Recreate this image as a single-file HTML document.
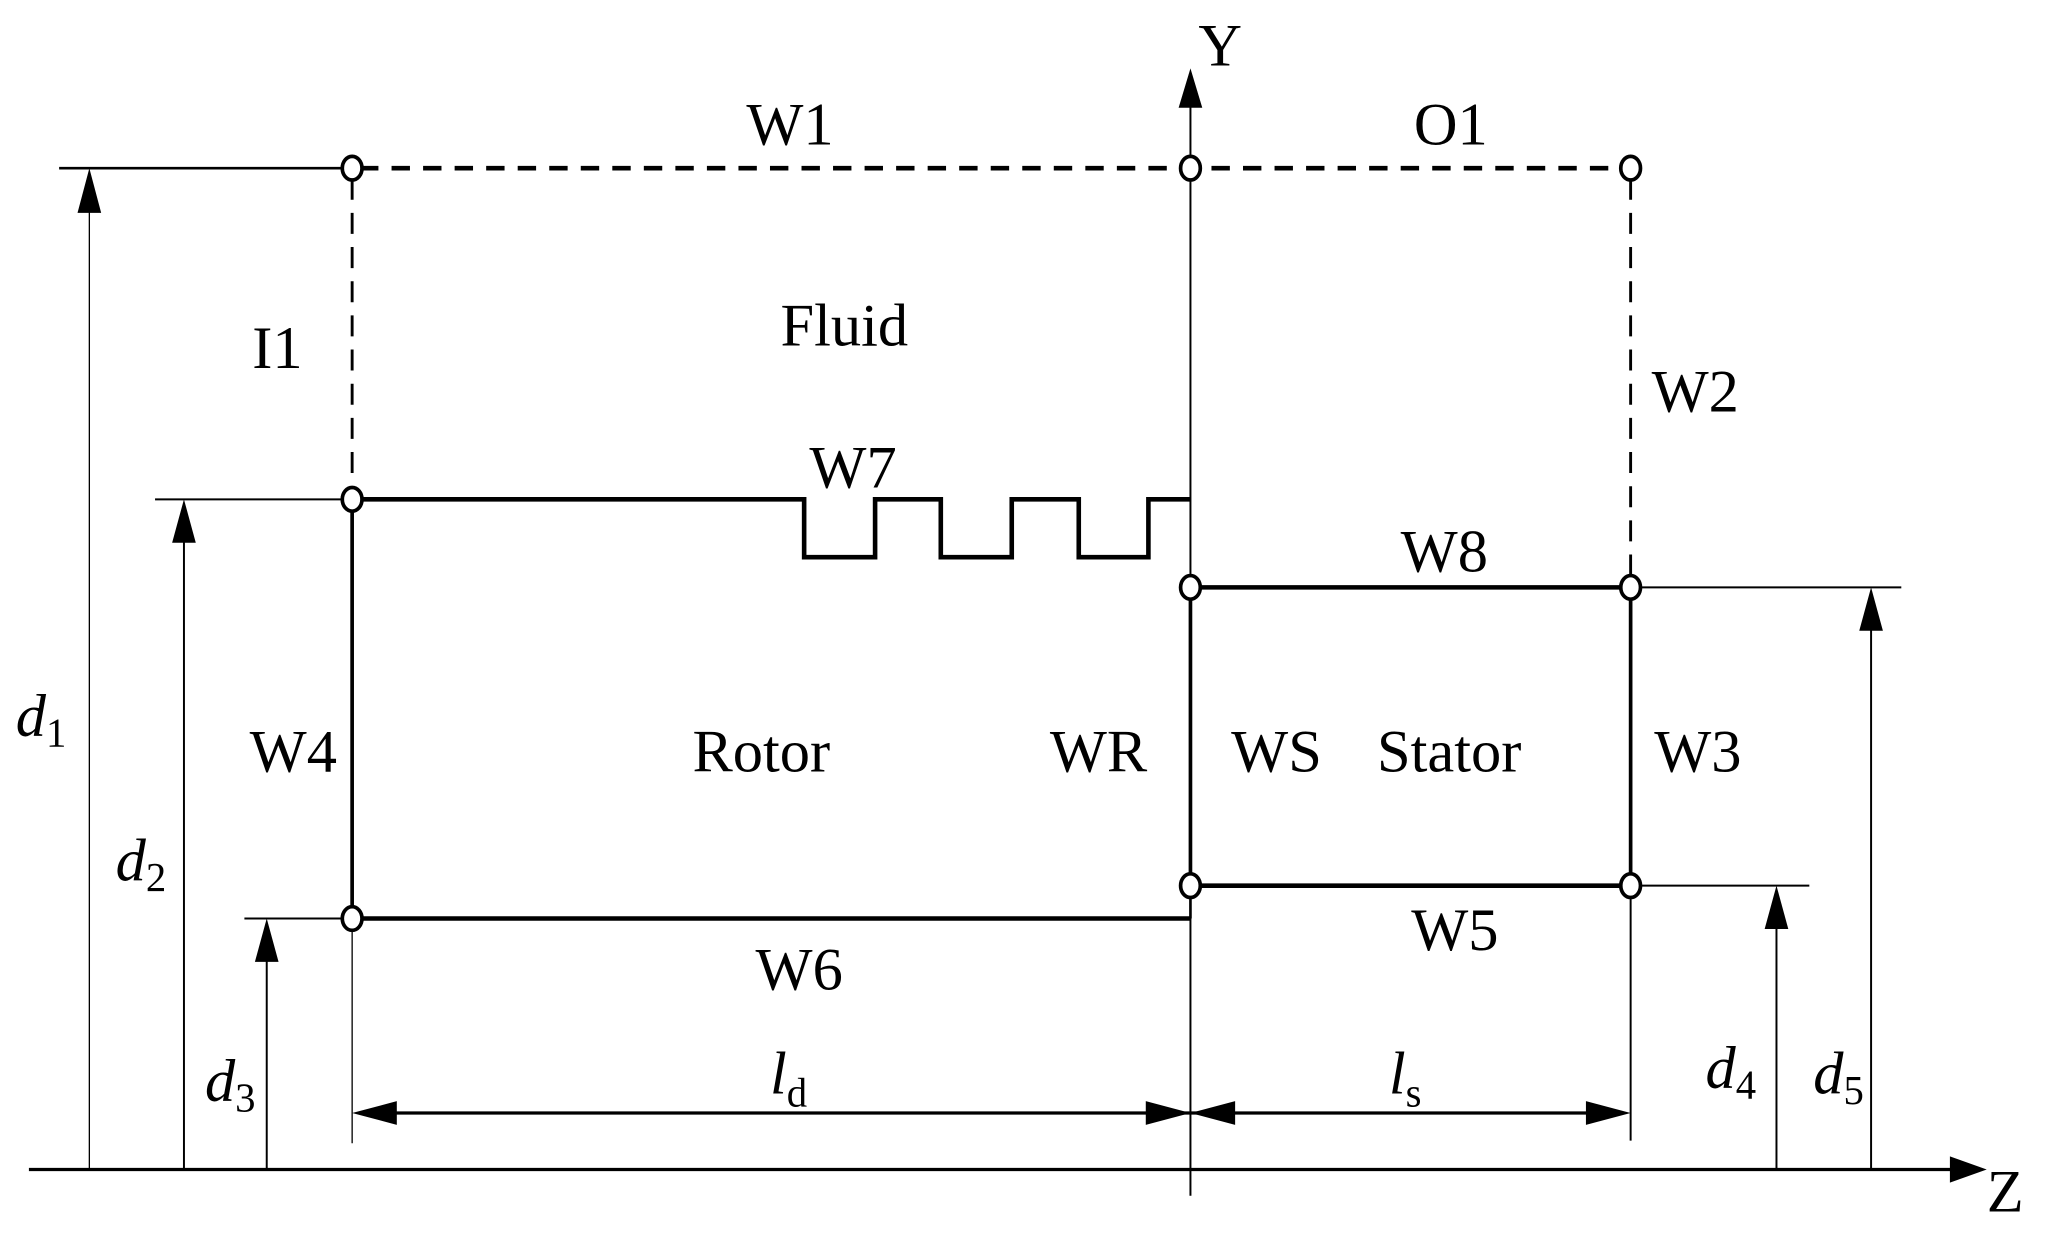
<!DOCTYPE html>
<html><head><meta charset="utf-8"><style>
html,body{margin:0;padding:0;background:#fff}
svg{display:block}
text{font-family:"Liberation Serif",serif;font-size:46px;fill:#000}
.i{font-style:italic}
</style></head><body>
<svg width="2062" height="1244" viewBox="0 0 1569.3 946.7" preserveAspectRatio="none" xmlns="http://www.w3.org/2000/svg">
<g stroke="#000" fill="none">
<line x1="22" y1="890" x2="1495" y2="890" stroke-width="2.5"/>
<polygon points="1512,890 1484,880 1484,900" fill="#000" stroke="none"/>
<line x1="906" y1="910" x2="906" y2="70" stroke-width="1.5"/>
<polygon points="906,52 897,82 915,82" fill="#000" stroke="none"/>
<line x1="45" y1="128" x2="262" y2="128" stroke-width="2"/>
<line x1="274" y1="128" x2="1235" y2="128" stroke-width="3.5" stroke-dasharray="14,10"/>
<line x1="268" y1="136" x2="268" y2="373" stroke-width="2.2" stroke-dasharray="16,10"/>
<line x1="1241" y1="136" x2="1241" y2="440" stroke-width="2.2" stroke-dasharray="16,10"/>
<line x1="118" y1="380" x2="262" y2="380" stroke-width="1.5"/>
<polyline points="274,380 612,380 612,424 666,424 666,380 716,380 716,424 770,424 770,380 821,380 821,424 874,424 874,380 906,380" stroke-width="3.5"/>
<line x1="268" y1="387" x2="268" y2="691" stroke-width="2.8"/>
<line x1="274" y1="699" x2="906" y2="699" stroke-width="3.5"/>
<line x1="906" y1="699" x2="906" y2="680" stroke-width="2"/>
<line x1="186" y1="699" x2="262" y2="699" stroke-width="1.5"/>
<line x1="268" y1="706" x2="268" y2="870" stroke-width="1"/>
<line x1="913" y1="447" x2="1234" y2="447" stroke-width="3.5"/>
<line x1="913" y1="674" x2="1234" y2="674" stroke-width="3.5"/>
<line x1="906" y1="455" x2="906" y2="667" stroke-width="2.8"/>
<line x1="1241" y1="455" x2="1241" y2="667" stroke-width="2.8"/>
<line x1="1248" y1="447" x2="1447" y2="447" stroke-width="1.5"/>
<line x1="1248" y1="674" x2="1377" y2="674" stroke-width="1.5"/>
<line x1="1241" y1="681" x2="1241" y2="868" stroke-width="1.5"/>
<line x1="68" y1="890" x2="68" y2="140" stroke-width="1"/>
<line x1="140" y1="890" x2="140" y2="392" stroke-width="1.5"/>
<line x1="203" y1="890" x2="203" y2="710" stroke-width="1.5"/>
<line x1="1352" y1="890" x2="1352" y2="686" stroke-width="1.5"/>
<line x1="1424" y1="890" x2="1424" y2="460" stroke-width="1.5"/>
<line x1="275" y1="847" x2="1235" y2="847" stroke-width="2.5"/>
</g>
<g fill="#000">
<polygon points="68,128 59,162 77,162"/>
<polygon points="140,380 131,413 149,413"/>
<polygon points="203,699 194,732 212,732"/>
<polygon points="1352,674 1343,707 1361,707"/>
<polygon points="1424,447 1415,480 1433,480"/>
<polygon points="268,847 302,838 302,856"/>
<polygon points="906,847 872,838 872,856"/>
<polygon points="906,847 940,838 940,856"/>
<polygon points="1241,847 1207,838 1207,856"/>
</g>
<g fill="#fff" stroke="#000" stroke-width="2.8">
<ellipse cx="268" cy="128" rx="7.5" ry="9"/>
<ellipse cx="906" cy="128" rx="7.5" ry="9"/>
<ellipse cx="1241" cy="128" rx="7.5" ry="9"/>
<ellipse cx="268" cy="380" rx="7.5" ry="9"/>
<ellipse cx="268" cy="699" rx="7.5" ry="9"/>
<ellipse cx="906" cy="447" rx="7.5" ry="9"/>
<ellipse cx="1241" cy="447" rx="7.5" ry="9"/>
<ellipse cx="906" cy="674" rx="7.5" ry="9"/>
<ellipse cx="1241" cy="674" rx="7.5" ry="9"/>
</g>
<text x="912" y="50">Y</text>
<text x="1512" y="922">Z</text>
<text x="568" y="110">W1</text>
<text x="1076" y="110">O1</text>
<text x="594" y="263">Fluid</text>
<text x="192" y="280">I1</text>
<text x="1257" y="313">W2</text>
<text x="616" y="371">W7</text>
<text x="1066" y="435">W8</text>
<text x="190" y="587">W4</text>
<text x="527" y="587">Rotor</text>
<text x="799" y="587">WR</text>
<text x="937" y="587">WS</text>
<text x="1048" y="587">Stator</text>
<text x="1259" y="587">W3</text>
<text x="575" y="753">W6</text>
<text x="1074" y="723">W5</text>
<text x="12" y="560" class="i">d<tspan font-style="normal" font-size="31" dy="8">1</tspan></text>
<text x="88" y="670" class="i">d<tspan font-style="normal" font-size="31" dy="8">2</tspan></text>
<text x="156" y="838" class="i">d<tspan font-style="normal" font-size="31" dy="8">3</tspan></text>
<text x="586" y="832" class="i">l<tspan font-style="normal" font-size="31" dy="10">d</tspan></text>
<text x="1057" y="832" class="i">l<tspan font-style="normal" font-size="31" dy="10">s</tspan></text>
<text x="1298" y="828" class="i">d<tspan font-style="normal" font-size="31" dy="8">4</tspan></text>
<text x="1380" y="832" class="i">d<tspan font-style="normal" font-size="31" dy="8">5</tspan></text>
</svg>
</body></html>
